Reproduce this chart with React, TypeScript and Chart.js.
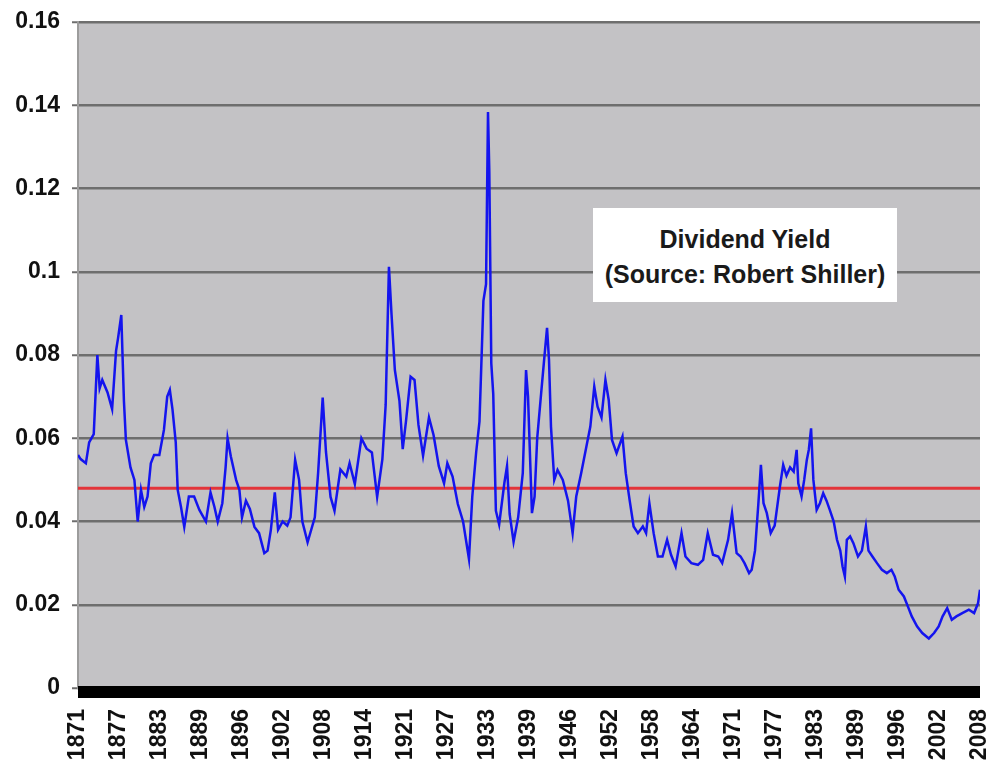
import React, { useEffect, useRef } from "react";
import { Chart, registerables } from "chart.js";

Chart.register(...registerables);

const YEARS = [
  1871.0, 1871.4, 1872.2, 1872.7, 1873.4, 1873.95, 1874.3, 1874.7, 1875.5, 1876.2,
  1876.8, 1877.1, 1877.6, 1878.0, 1878.3, 1879.0, 1879.6, 1880.1, 1880.6, 1881.1,
  1881.6, 1882.1, 1882.6, 1883.4, 1884.1, 1884.6, 1885.0, 1885.4, 1885.9, 1886.2,
  1886.7, 1887.2, 1887.9, 1888.7, 1889.5, 1890.5, 1891.2, 1891.8, 1892.3, 1893.0,
  1893.5, 1893.8, 1894.3, 1895.1, 1895.6, 1896.0, 1896.6, 1897.2, 1897.9, 1898.6,
  1899.4, 1899.9, 1900.4, 1901.0, 1901.5, 1902.2, 1902.9, 1903.4, 1904.1, 1904.7,
  1905.2, 1906.0, 1907.1, 1907.6, 1908.3, 1908.8, 1909.5, 1910.1, 1911.0, 1911.9,
  1912.4, 1913.2, 1914.2, 1915.0, 1915.8, 1916.6, 1917.4, 1917.9, 1918.4, 1918.8,
  1919.3, 1920.0, 1920.5, 1921.0, 1921.7, 1922.3, 1922.9, 1923.6, 1924.5, 1925.2,
  1926.0, 1926.8, 1927.3, 1928.1, 1928.9, 1929.7, 1930.6, 1931.1, 1931.7, 1932.2,
  1932.8, 1933.2, 1933.5, 1933.7, 1934.0, 1934.3, 1934.7, 1935.2, 1936.0, 1936.4,
  1936.8, 1937.4, 1938.1, 1938.8, 1939.3, 1939.6, 1940.2, 1940.6, 1941.0, 1941.6,
  1942.1, 1942.5, 1942.8, 1943.1, 1943.6, 1944.1, 1944.9, 1945.7, 1946.4, 1946.95,
  1947.7, 1948.5, 1949.1, 1949.7, 1950.2, 1950.8, 1951.4, 1951.9, 1952.4, 1953.1,
  1954.0, 1954.5, 1955.1, 1955.7, 1956.35, 1957.1, 1957.6, 1958.1, 1958.75, 1959.4,
  1960.1, 1960.8, 1961.4, 1962.1, 1963.0, 1963.6, 1964.5, 1965.5, 1966.3, 1967.0,
  1967.8, 1968.6, 1969.2, 1970.1, 1970.7, 1971.4, 1972.0, 1972.6, 1973.3, 1973.7,
  1974.2, 1974.7, 1975.1, 1975.5, 1976.0, 1976.6, 1977.2, 1978.0, 1978.5, 1979.0,
  1979.55, 1980.1, 1980.55, 1980.8, 1981.3, 1981.7, 1982.1, 1982.4, 1982.75, 1983.1,
  1983.6, 1984.1, 1984.6, 1985.1, 1985.6, 1986.2, 1986.7, 1987.2, 1987.55, 1987.9,
  1988.2, 1988.7, 1989.2, 1989.9, 1990.5, 1991.1, 1991.5, 1992.1, 1992.8, 1993.55,
  1994.3, 1995.0, 1995.5, 1996.1, 1996.9, 1997.5, 1998.1, 1998.9, 1999.7, 2000.7,
  2001.5, 2002.2, 2002.8, 2003.5, 2004.2, 2004.9, 2005.8, 2006.8, 2007.6, 2008.2,
  2008.5,
];

const DIVIDEND_YIELD = [
  0.056, 0.055, 0.054, 0.059, 0.061, 0.080, 0.072, 0.074, 0.071, 0.067,
  0.081, 0.084, 0.0896, 0.069, 0.0596, 0.053, 0.050, 0.040, 0.0476, 0.0435,
  0.046, 0.054, 0.056, 0.056, 0.062, 0.070, 0.0716, 0.067, 0.059, 0.0476,
  0.0435, 0.0387, 0.046, 0.046, 0.0428, 0.040, 0.047, 0.0435, 0.040, 0.0444,
  0.053, 0.060, 0.0556, 0.050, 0.0476, 0.041, 0.045, 0.043, 0.0387, 0.0372,
  0.0324, 0.033, 0.038, 0.047, 0.038, 0.040, 0.039, 0.041, 0.0548, 0.050,
  0.040, 0.035, 0.041, 0.0516, 0.0698, 0.0567, 0.0459, 0.0426, 0.0525, 0.0508,
  0.054, 0.049, 0.060, 0.0575, 0.0566, 0.0459, 0.055, 0.068, 0.1012, 0.0896,
  0.0764, 0.069, 0.0574, 0.0641, 0.0748, 0.074, 0.0632, 0.0558, 0.065, 0.0608,
  0.0533, 0.0492, 0.054, 0.0508, 0.0442, 0.040, 0.031, 0.0459, 0.0567, 0.064,
  0.093, 0.097, 0.1384, 0.124, 0.078, 0.0706, 0.0426, 0.0393, 0.0493, 0.0533,
  0.0418, 0.0351, 0.041, 0.0516, 0.0764, 0.070, 0.042, 0.046, 0.060, 0.0708,
  0.0796, 0.0865, 0.0788, 0.0628, 0.050, 0.0524, 0.050, 0.045, 0.0372, 0.046,
  0.0516, 0.058, 0.0628, 0.0724, 0.0676, 0.065, 0.074, 0.0692, 0.0596, 0.0564,
  0.0604, 0.0516, 0.045, 0.0388, 0.0372, 0.0388, 0.0372, 0.0444, 0.0372, 0.0316,
  0.0316, 0.0356, 0.032, 0.0292, 0.0372, 0.0316, 0.030, 0.0296, 0.0308, 0.0372,
  0.032, 0.0316, 0.030, 0.0356, 0.042, 0.0324, 0.0316, 0.030, 0.0276, 0.0284,
  0.033, 0.044, 0.0536, 0.0444, 0.042, 0.0372, 0.039, 0.0484, 0.0536, 0.051,
  0.053, 0.052, 0.0572, 0.0492, 0.046, 0.050, 0.0548, 0.0572, 0.0624, 0.050,
  0.0428, 0.0444, 0.0468, 0.045, 0.0428, 0.040, 0.0356, 0.033, 0.0292, 0.0268,
  0.0356, 0.0364, 0.0348, 0.0316, 0.033, 0.0388, 0.033, 0.0316, 0.030, 0.0284,
  0.0276, 0.0284, 0.0268, 0.0236, 0.022, 0.0196, 0.0172, 0.0148, 0.0132, 0.0119,
  0.0132, 0.0148, 0.0172, 0.0192, 0.0164, 0.0172, 0.018, 0.0188, 0.018, 0.0204,
  0.0236,
];

const AVERAGE_YIELD = 0.048;
const X_START = 1871;
const X_END = 2008.5;
const X_TICK_STEP = 6.25;
const X_TICK_LABELS = [
  "1871", "1877", "1883", "1889", "1896", "1902", "1908", "1914", "1921", "1927",
  "1933", "1939", "1946", "1952", "1958", "1964", "1971", "1977", "1983", "1989",
  "1996", "2002", "2008",
];
const Y_MAX = 0.16;
const Y_STEP = 0.02;

const FONT_FAMILY = "'Liberation Sans', Arial, sans-serif";

const plotBackground = {
  id: "plotBackground",
  beforeDraw(chart: any) {
    const { ctx, chartArea } = chart;
    ctx.save();
    ctx.fillStyle = "#c3c2c5";
    ctx.fillRect(chartArea.left, chartArea.top, chartArea.right - chartArea.left, chartArea.bottom - chartArea.top);
    ctx.restore();
  },
  afterDraw(chart: any) {
    const { ctx, chartArea } = chart;
    ctx.save();
    ctx.fillStyle = "#000000";
    ctx.fillRect(chartArea.left, chartArea.bottom - 2, chartArea.right - chartArea.left, 12);
    ctx.restore();
  },
};

export default function App() {
  const canvasRef = useRef<HTMLCanvasElement | null>(null);

  useEffect(() => {
    if (!canvasRef.current) return;
    const chart = new Chart(canvasRef.current, {
      type: "line",
      data: {
        datasets: [
          {
            label: "Dividend Yield",
            data: YEARS.map((x, i) => ({ x, y: DIVIDEND_YIELD[i] })),
            borderColor: "#1414ee",
            borderWidth: 2.5,
            pointRadius: 0,
            tension: 0,
            fill: false,
          },
          {
            label: "Average",
            data: [
              { x: X_START, y: AVERAGE_YIELD },
              { x: X_END, y: AVERAGE_YIELD },
            ],
            borderColor: "#e3343a",
            borderWidth: 3,
            pointRadius: 0,
            fill: false,
          },
        ],
      },
      options: {
        animation: false,
        responsive: true,
        maintainAspectRatio: false,
        layout: { padding: { top: 22, right: 10, left: 0, bottom: 0 } },
        plugins: {
          legend: { display: false },
          tooltip: { enabled: false },
          title: { display: false },
        },
        scales: {
          x: {
            type: "linear",
            min: X_START,
            max: X_END,
            grid: { display: false, drawTicks: false },
            border: { display: false },
            afterBuildTicks: (scale: any) => {
              scale.ticks = X_TICK_LABELS.map((_, i) => ({ value: X_START + i * X_TICK_STEP }));
            },
            afterFit: (scale: any) => {
              scale.height = 89;
              scale.paddingLeft = 0;
              scale.paddingRight = 0;
            },
            ticks: {
              autoSkip: false,
              minRotation: 90,
              maxRotation: 90,
              padding: 21,
              color: "#111111",
              font: { family: FONT_FAMILY, size: 23, weight: "bold" },
              callback: (_v: any, i: number) => X_TICK_LABELS[i],
            },
          },
          y: {
            min: 0,
            max: Y_MAX,
            grid: {
              color: "#6e6e6e",
              lineWidth: 2.5,
              tickLength: 6,
              tickColor: "#6e6e6e",
              tickWidth: 2,
            },
            border: { display: true, color: "#9c9c9c", width: 2 },
            afterFit: (scale: any) => {
              scale.width = 78;
              scale.paddingTop = 0;
              scale.paddingBottom = 0;
            },
            ticks: {
              stepSize: Y_STEP,
              padding: 12,
              color: "#111111",
              font: { family: FONT_FAMILY, size: 23, weight: "bold" },
              callback: (v: any) => String(+Number(v).toFixed(2)),
            },
          },
        },
      },
      plugins: [plotBackground],
    } as any);
    return () => chart.destroy();
  }, []);

  return (
    <div style={{ position: "absolute", left: 0, top: 0, width: 990, height: 777, background: "#ffffff" }}>
      <canvas ref={canvasRef} />
      <div
        style={{
          position: "absolute",
          left: 593,
          top: 208,
          width: 304,
          height: 94,
          background: "#ffffff",
          boxSizing: "border-box",
          paddingTop: 14,
          textAlign: "center",
          fontFamily: FONT_FAMILY,
          fontWeight: "bold",
          fontSize: 25,
          lineHeight: "35px",
          color: "#1a1a1a",
          whiteSpace: "nowrap",
        }}
      >
        <div>Dividend Yield</div>
        <div>(Source: Robert Shiller)</div>
      </div>
    </div>
  );
}
